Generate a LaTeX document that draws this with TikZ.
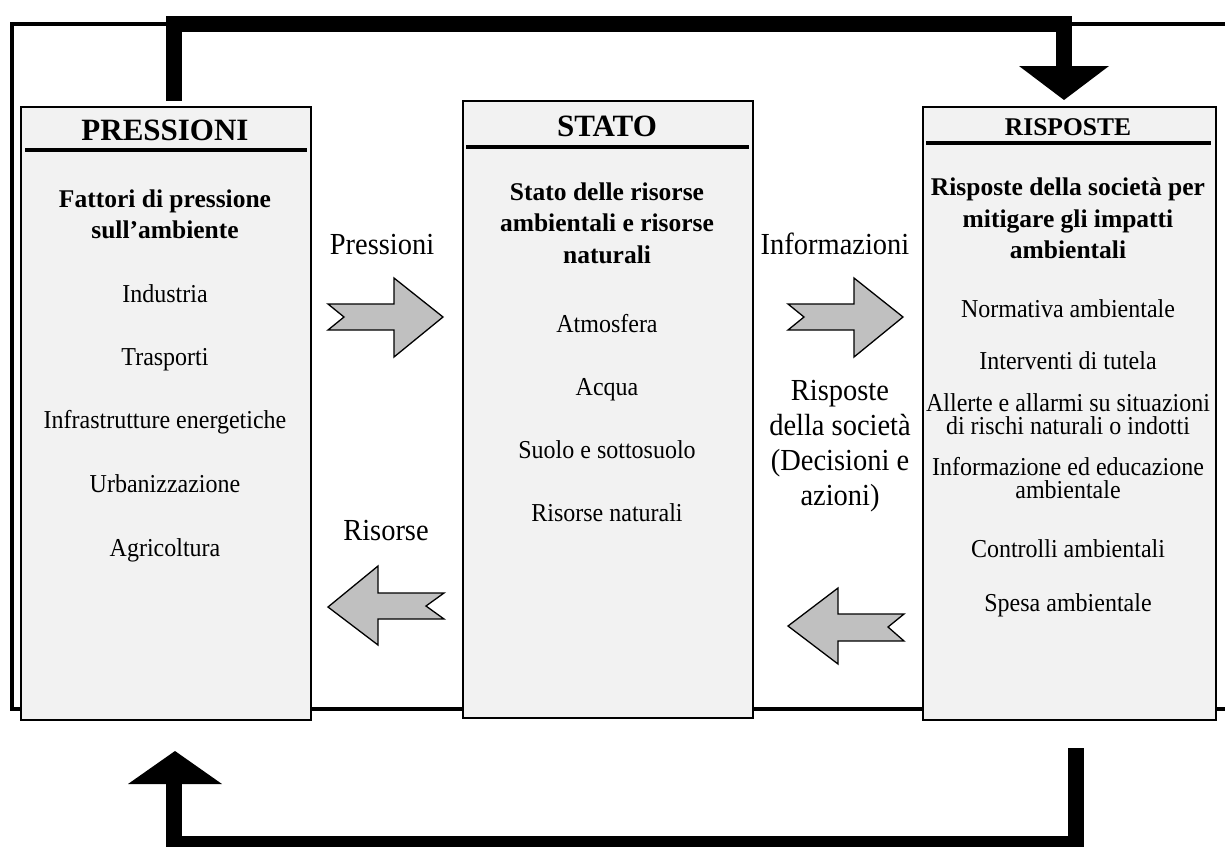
\documentclass[tikz,border=0pt]{standalone}
\usepackage{fontspec}
\setmainfont{Liberation Serif}
\newfontfamily\narrowserif{Liberation Serif}[FakeStretch=0.93]
\definecolor{boxgray}{HTML}{F2F2F2}
\definecolor{arrgray}{HTML}{C0C0C0}
\tikzset{
  box/.style={draw=black, line width=1.5pt, fill=boxgray, inner sep=0pt, anchor=north west},
  hline/.style={line width=4pt},
  ttl/.style={font=\bfseries\fontsize{31}{31}\selectfont, inner sep=0pt, anchor=base},
  ttlsmall/.style={font=\bfseries\fontsize{25.5}{31}\selectfont, inner sep=0pt, anchor=base},
  sub/.style={font=\bfseries\fontsize{25.5}{31}\selectfont, inner sep=0pt, anchor=base},
  item/.style={font=\narrowserif\fontsize{25.8}{22.5}\selectfont, inner sep=0pt, anchor=base, align=center},
  lbl/.style={font=\narrowserif\fontsize{30.6}{35}\selectfont, inner sep=0pt, anchor=base},
  fat/.style={line width=16pt, line join=miter},
  grayarrow/.style={draw=black, line width=1.3pt, fill=arrgray, line join=miter},
  frame/.style={line width=3.5pt}
}
\begin{document}
\begin{tikzpicture}[x=1pt,y=-1pt]
\useasboundingbox (0,0) rectangle (1225,846);
\clip (0,0) rectangle (1225,846);
% outer frame
\draw[frame] (12,24) rectangle (1245,709);
% thick feedback arrows
\coordinate (ts) at (174,101);
\coordinate (tc1) at (174,24);
\coordinate (tc2) at (1064,24);
\coordinate (te) at (1064,67);
\draw[fat] (ts) -- (tc1) -- (tc2) -- (te);
\fill (1019,66) -- (1109,66) -- (1064,100) -- cycle;
\coordinate (bs) at (1076,748);
\coordinate (bc1) at (1076,844);
\coordinate (bc2) at (174,844);
\coordinate (be) at (174,783);
\draw[fat] (bs) -- (bc1) -- (bc2) -- (be);
\fill (128,784) -- (222,784) -- (175,751) -- cycle;
% boxes
\node[box, minimum width=290pt, minimum height=613pt] (P) at (20,106) {};
\node[box, minimum width=290pt, minimum height=617pt] (S) at (462,100) {};
\node[box, minimum width=293pt, minimum height=613pt] (R) at (922,106) {};
\draw[hline] (25,150) -- (307,150);
\draw[hline] (466,147) -- (749,147);
\draw[hline] (926,143) -- (1211,143);
% PRESSIONI
\node[ttl] (pt) at (165,140) {PRESSIONI};
\node[sub] (ps1) at (165,207) {Fattori di pressione};
\node[sub] (ps2) at (165,238) {sull’ambiente};
\node[item] (pi1) at (165,302) {Industria};
\node[item] (pi2) at (165,365) {Trasporti};
\node[item] (pi3) at (165,428) {Infrastrutture energetiche};
\node[item] (pi4) at (165,492) {Urbanizzazione};
\node[item] (pi5) at (165,556) {Agricoltura};
% STATO
\node[ttl] (st) at (607,136) {STATO};
\node[sub] (ss1) at (607,200) {Stato delle risorse};
\node[sub] (ss2) at (607,231) {ambientali e risorse};
\node[sub] (ss3) at (607,263) {naturali};
\node[item] (si1) at (607,332) {Atmosfera};
\node[item] (si2) at (607,395) {Acqua};
\node[item] (si3) at (607,458) {Suolo e sottosuolo};
\node[item] (si4) at (607,521) {Risorse naturali};
% RISPOSTE
\node[ttlsmall] (rt) at (1068,135) {RISPOSTE};
\node[sub] (rs1) at (1068,195) {Risposte della società per};
\node[sub] (rs2) at (1068,227) {mitigare gli impatti};
\node[sub] (rs3) at (1068,258) {ambientali};
\node[item] (ri1) at (1068,317) {Normativa ambientale};
\node[item] (ri2) at (1068,369) {Interventi di tutela};
\node[item] (ri3) at (1068,434) {Allerte e allarmi su situazioni\\di rischi naturali o indotti};
\node[item] (ri4) at (1068,498) {Informazione ed educazione\\ambientale};
\node[item] (ri5) at (1068,557) {Controlli ambientali};
\node[item] (ri6) at (1068,611) {Spesa ambientale};
% middle labels
\node[lbl] (lp) at (382,254) {Pressioni};
\node[lbl] (li) at (835,254) {Informazioni};
\node[lbl] (lr) at (386,540) {Risorse};
\node[lbl] (ld1) at (840,400) {Risposte};
\node[lbl] (ld2) at (840,435) {della società};
\node[lbl] (ld3) at (840,470) {(Decisioni e};
\node[lbl] (ld4) at (840,505) {azioni)};
% gray block arrows
\draw[grayarrow] (328,304) -- (394,304) -- (394,278) -- (443,317) -- (394,357) -- (394,330) -- (328,330) -- (344,317) -- cycle;
\draw[grayarrow] (788,304) -- (854,304) -- (854,278) -- (903,317) -- (854,357) -- (854,330) -- (788,330) -- (804,317) -- cycle;
\draw[grayarrow] (328,607) -- (378,566) -- (378,593) -- (444,593) -- (426,606) -- (444,619) -- (378,619) -- (378,645) -- cycle;
\draw[grayarrow] (788,626) -- (838,588) -- (838,614) -- (904,614) -- (888,627) -- (904,641) -- (838,641) -- (838,664) -- cycle;
\end{tikzpicture}
\end{document}
